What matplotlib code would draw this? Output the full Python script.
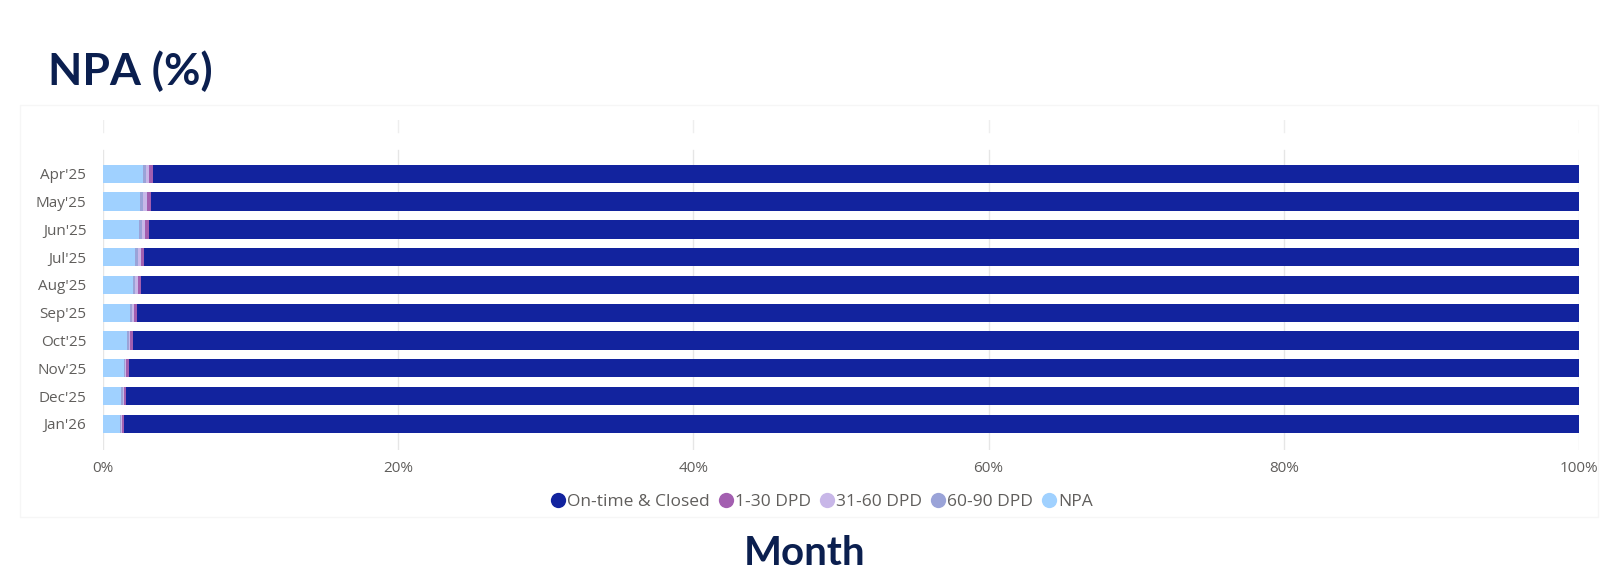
import numpy as np
import matplotlib.pyplot as plt
from matplotlib.patches import Rectangle
from matplotlib.lines import Line2D
from matplotlib.ticker import PercentFormatter

# --- data (percent of portfolio) ---
months = ["Apr'25", "May'25", "Jun'25", "Jul'25", "Aug'25",
          "Sep'25", "Oct'25", "Nov'25", "Dec'25", "Jan'26"]
npa = [2.68, 2.53, 2.42, 2.19, 2.03, 1.85, 1.63, 1.40, 1.24, 1.13]
dpd_60_90 = [0.22, 0.18, 0.22, 0.18, 0.16, 0.11, 0.11, 0.09, 0.09, 0.09]
dpd_31_60 = [0.25, 0.27, 0.18, 0.20, 0.18, 0.11, 0.11, 0.09, 0.07, 0.07]
dpd_1_30 = [0.27, 0.27, 0.27, 0.23, 0.20, 0.23, 0.18, 0.16, 0.14, 0.11]
on_time = [100 - a - b - c - d for a, b, c, d in zip(npa, dpd_60_90, dpd_31_60, dpd_1_30)]

series = [
    ("NPA", npa, "#A0D1FF"),
    ("60-90 DPD", dpd_60_90, "#9AA3D8"),
    ("31-60 DPD", dpd_31_60, "#C8B7E8"),
    ("1-30 DPD", dpd_1_30, "#A35FB0"),
    ("On-time & Closed", on_time, "#12239E"),
]

fig = plt.figure(figsize=(16.03, 5.80), dpi=100)
fig.patch.set_facecolor("white")

# faint visual container behind the chart
fig.patches.append(Rectangle((20 / 1603, 1 - 517 / 580), 1578 / 1603, 412 / 580,
                             transform=fig.transFigure, fill=False, zorder=0,
                             edgecolor="#F6F6F6", linewidth=1.0))

ax = fig.add_axes([103 / 1603, 1 - 450 / 580, (1579 - 103) / 1603, 330 / 580])
ax.set_facecolor("none")

y = np.arange(len(months))
left = np.zeros(len(months))
for name, vals, col in series:
    ax.barh(y, vals, left=left, height=0.66, color=col, edgecolor="none", zorder=3)
    left += np.array(vals)

ax.set_xlim(0, 100)
ax.set_ylim(9.94, -1.94)
ax.set_yticks(y)
ax.set_yticklabels(months)
ax.set_xticks([0, 20, 40, 60, 80, 100])
ax.xaxis.set_major_formatter(PercentFormatter(decimals=0))

# broken gridlines like the original
for xv in [0, 20, 40, 60, 80, 100]:
    ax.axvline(xv, ymin=0, ymax=0.909, color="#E6E6E6", linewidth=1, zorder=1)
    ax.axvline(xv, ymin=0.964, ymax=1.0, color="#EEEEEE", linewidth=1, zorder=1)

for s in ax.spines.values():
    s.set_visible(False)
ax.tick_params(axis="both", length=0, labelsize=11, labelcolor="#605E5C")
ax.tick_params(axis="y", pad=12)
ax.tick_params(axis="x", pad=8)
for lab in ax.get_xticklabels() + ax.get_yticklabels():
    lab.set_family(["Open Sans", "DejaVu Sans"])

# legend
order = ["On-time & Closed", "1-30 DPD", "31-60 DPD", "60-90 DPD", "NPA"]
colors = {name: col for name, _, col in series}
handles = [Line2D([0], [0], marker="o", linestyle="none", markersize=11,
                  markerfacecolor=colors[n], markeredgecolor="none") for n in order]
fig.legend(handles, order, loc="center", bbox_to_anchor=(822 / 1603, 1 - 502 / 580),
           ncol=5, frameon=False, handlelength=0.8, handletextpad=0.15,
           columnspacing=0.5,
           prop={"family": ["Open Sans", "DejaVu Sans"], "size": 12.5},
           labelcolor="#605E5C")

fig.text(48 / 1603, 1 - 85 / 580, "NPA (%)", fontsize=32, fontweight="bold",
         color="#0B1F4F", family=["Lato", "DejaVu Sans"], va="baseline", ha="left")
fig.text(805 / 1603, 1 - 565 / 580, "Month", fontsize=29, fontweight="bold",
         color="#0B1F4F", family=["Lato", "DejaVu Sans"], va="baseline", ha="center")

fig.savefig("out.png", dpi=100)
